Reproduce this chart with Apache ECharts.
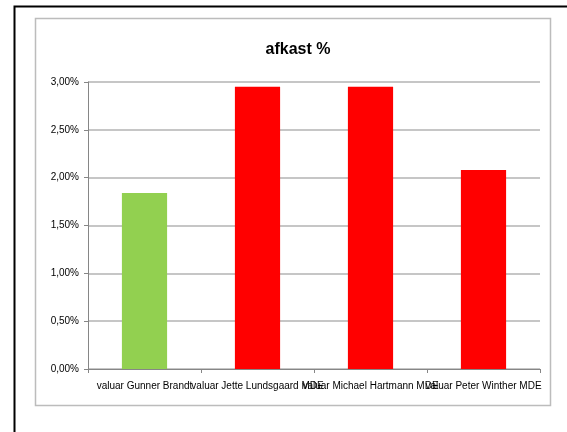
<!DOCTYPE html>
<html>
<head>
<meta charset="utf-8">
<script src="https://cdn.jsdelivr.net/npm/echarts@6/dist/echarts.min.js"></script>
<style>
  html, body { margin: 0; padding: 0; background: #ffffff; }
  #chart { width: 567px; height: 432px; }
</style>
</head>
<body>
<div id="chart"></div>
<script>
// Return per fund (afkast, in percent)
const categories = [
  'valuar Gunner Brandt',
  'valuar Jette Lundsgaard MDE',
  'valuar Michael Hartmann MDE',
  'valuar Peter Winther MDE'
];
const afkast = [1.84, 2.95, 2.95, 2.08];
const barColors = ['#92d050', '#ff0000', '#ff0000', '#ff0000'];
const yTicks = [0, 0.5, 1, 1.5, 2, 2.5, 3];

const labelFont = '"Liberation Sans Narrow", "Liberation Sans", sans-serif';

const chart = echarts.init(document.getElementById('chart'), null, { renderer: 'canvas' });

chart.setOption({
  animation: false,
  backgroundColor: '#ffffff',
  title: {
    text: 'afkast %',
    left: 293,
    textAlign: 'center',
    top: 37,
    textStyle: {
      fontFamily: labelFont,
      fontWeight: 'bold',
      fontSize: 16,
      color: '#000000'
    }
  },
  graphic: [
    {
      type: 'rect',
      shape: { x: 14.5, y: 6.5, width: 600, height: 500 },
      style: { fill: 'none', stroke: '#000000', lineWidth: 2 },
      silent: true
    },
    {
      type: 'rect',
      shape: { x: 35.5, y: 18.5, width: 515, height: 387 },
      style: { fill: 'none', stroke: '#bcbcbc', lineWidth: 1.5 },
      silent: true
    }
  ],
  grid: {
    left: 88,
    top: 82,
    width: 452,
    height: 287
  },
  xAxis: {
    type: 'category',
    data: categories,
    axisLine: { show: true, lineStyle: { color: '#868686', width: 1 } },
    axisTick: { show: true, length: 4, alignWithLabel: false, lineStyle: { color: '#868686' } },
    axisLabel: {
      interval: 0,
      hideOverlap: false,
      margin: 12,
      fontFamily: labelFont,
      fontSize: 10,
      color: '#000000'
    }
  },
  yAxis: {
    type: 'value',
    min: yTicks[0],
    max: yTicks[yTicks.length - 1],
    interval: 0.5,
    axisLine: { show: true, lineStyle: { color: '#868686', width: 1 } },
    axisTick: { show: true, length: 4, lineStyle: { color: '#868686' } },
    splitLine: { show: true, lineStyle: { color: '#b3b3b3', width: 1.5 } },
    axisLabel: {
      margin: 9,
      fontFamily: labelFont,
      fontSize: 10,
      color: '#000000',
      formatter: v => v.toFixed(2).replace('.', ',') + '%'
    }
  },
  series: [
    {
      type: 'bar',
      barWidth: '40%',
      data: afkast.map((v, i) => ({ value: v, itemStyle: { color: barColors[i] } }))
    }
  ]
});
</script>
</body>
</html>
